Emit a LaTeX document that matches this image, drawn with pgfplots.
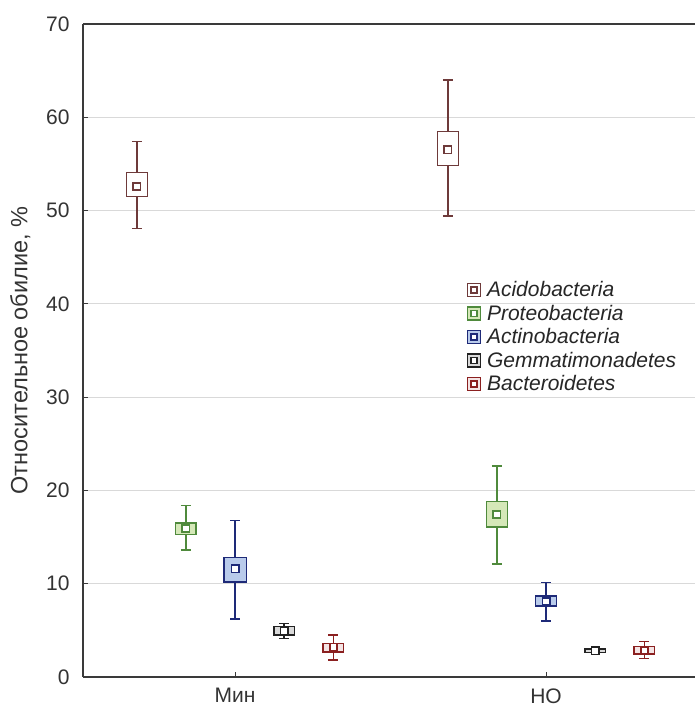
\documentclass[border=0pt]{standalone}
\usepackage{fontspec}
\setmainfont{Liberation Sans}
\usepackage{pgfplots}
\pgfplotsset{compat=1.18}
\definecolor{acidoC}{HTML}{6E3A3A}
\definecolor{proteoC}{HTML}{4F8A3C}
\definecolor{proteoF}{HTML}{D5E8B8}
\definecolor{actinoC}{HTML}{1E2A78}
\definecolor{actinoF}{HTML}{B9CBEB}
\definecolor{gemmaC}{HTML}{222222}
\definecolor{gemmaF}{HTML}{D9D9D9}
\definecolor{bactC}{HTML}{8B2020}
\definecolor{bactF}{HTML}{F4E4E4}
\definecolor{gridC}{HTML}{D9D9D9}
\definecolor{axisC}{HTML}{3A3A3A}
% pos, lower whisker, lower box, mean, upper box, upper whisker, line colour, fill colour, half box width
\newcommand{\bx}[9]{%
  \pgfmathsetmacro{\boxL}{#1-#9}\pgfmathsetmacro{\boxR}{#1+#9}%
  \pgfmathsetmacro{\capL}{#1-0.016}\pgfmathsetmacro{\capR}{#1+0.016}%
  \addplot[forget plot, draw=#7, line width=1.5pt] coordinates {(#1,#2) (#1,#6)};
  \addplot[forget plot, draw=#7, line width=1.5pt] coordinates {(\capL,#6) (\capR,#6)};
  \addplot[forget plot, draw=#7, line width=1.5pt] coordinates {(\capL,#2) (\capR,#2)};
  \addplot[forget plot, draw=#7, fill=#8, line width=1.4pt] coordinates {(\boxL,#3) (\boxR,#3) (\boxR,#5) (\boxL,#5)} -- cycle;
  \addplot[forget plot, only marks, mark=square*, mark size=3.6pt, mark options={draw=#7, fill=white, line width=1.7pt}] coordinates {(#1,#4)};
}
\newcommand{\legimg}[2]{%
  \addlegendimage{legend image code/.code={
    \draw[draw=#1, fill=#2, line width=1.2pt] (-4pt,-6.5pt) rectangle (9pt,6.5pt);
    \draw[draw=#1, fill=white, line width=1.4pt] (-0.5pt,-3pt) rectangle (5.5pt,3pt);
  }}}
\begin{document}
\begin{tikzpicture}
\begin{axis}[name=ax,
  scale only axis, width=612pt, height=653pt,
  xmin=0.511, xmax=2.479, ymin=0, ymax=70,
  axis x line*=box, axis y line*=left,
  axis line style={draw=axisC, line width=1.6pt},
  xtick={1,2}, xticklabels={Мин, НО},
  ytick={0,10,...,70},
  xtick pos=left, ytick pos=left,
  tick align=inside, major tick length=5pt,
  tick style={draw=axisC, line width=1.1pt},
  ymajorgrids, grid style={draw=gridC, line width=1.1pt},
  /pgf/number format/assume math mode=true,
  tick label style={font=\fontsize{21}{24}\selectfont, text=black!80},
  yticklabel style={xshift=-10pt},
  xticklabel style={yshift=-8pt},
  ylabel={Относительное обилие, \%},
  ylabel style={font=\fontsize{23.5}{26}\selectfont, text=black!80, at={(axis description cs:-0.1025,0.5)}, anchor=center},
  legend style={draw=none, fill=none, at={(rel axis cs:0.622,0.612)}, anchor=north west,
    font=\fontsize{21}{24}\selectfont\itshape, text=black!85, row sep=2.8pt,
    /tikz/every odd column/.append style={column sep=4pt}},
  legend cell align=left,
]
% Min group
\bx{0.684}{48.1}{51.5}{52.6}{54.05}{57.4}{acidoC}{white}{0.034}
\bx{0.842}{13.6}{15.3}{15.9}{16.5}{18.4}{proteoC}{proteoF}{0.033}
\bx{1.000}{6.2}{10.2}{11.6}{12.8}{16.8}{actinoC}{actinoF}{0.036}
\bx{1.158}{4.15}{4.5}{4.93}{5.4}{5.75}{gemmaC}{gemmaF}{0.033}
\bx{1.316}{1.8}{2.7}{3.2}{3.6}{4.5}{bactC}{bactF}{0.033}
% NO group
\bx{1.684}{49.4}{54.8}{56.5}{58.5}{64.0}{acidoC}{white}{0.034}
\bx{1.842}{12.1}{16.1}{17.4}{18.8}{22.6}{proteoC}{proteoF}{0.034}
\bx{2.000}{6.0}{7.6}{8.1}{8.7}{10.15}{actinoC}{actinoF}{0.034}
\bx{2.158}{2.6}{2.65}{2.8}{3.0}{3.05}{gemmaC}{gemmaF}{0.033}
\bx{2.316}{2.0}{2.46}{2.85}{3.25}{3.8}{bactC}{bactF}{0.033}
\legimg{acidoC}{white}\addlegendentry{Acidobacteria}
\legimg{proteoC}{proteoF}\addlegendentry{Proteobacteria}
\legimg{actinoC}{actinoF}\addlegendentry{Actinobacteria}
\legimg{gemmaC}{gemmaF}\addlegendentry{Gemmatimonadetes}
\legimg{bactC}{bactF}\addlegendentry{Bacteroidetes}
\end{axis}
\pgfresetboundingbox
\path ([xshift=-83pt,yshift=-32pt]ax.south west) rectangle ([yshift=24pt]ax.north east);
\end{tikzpicture}
\end{document}
